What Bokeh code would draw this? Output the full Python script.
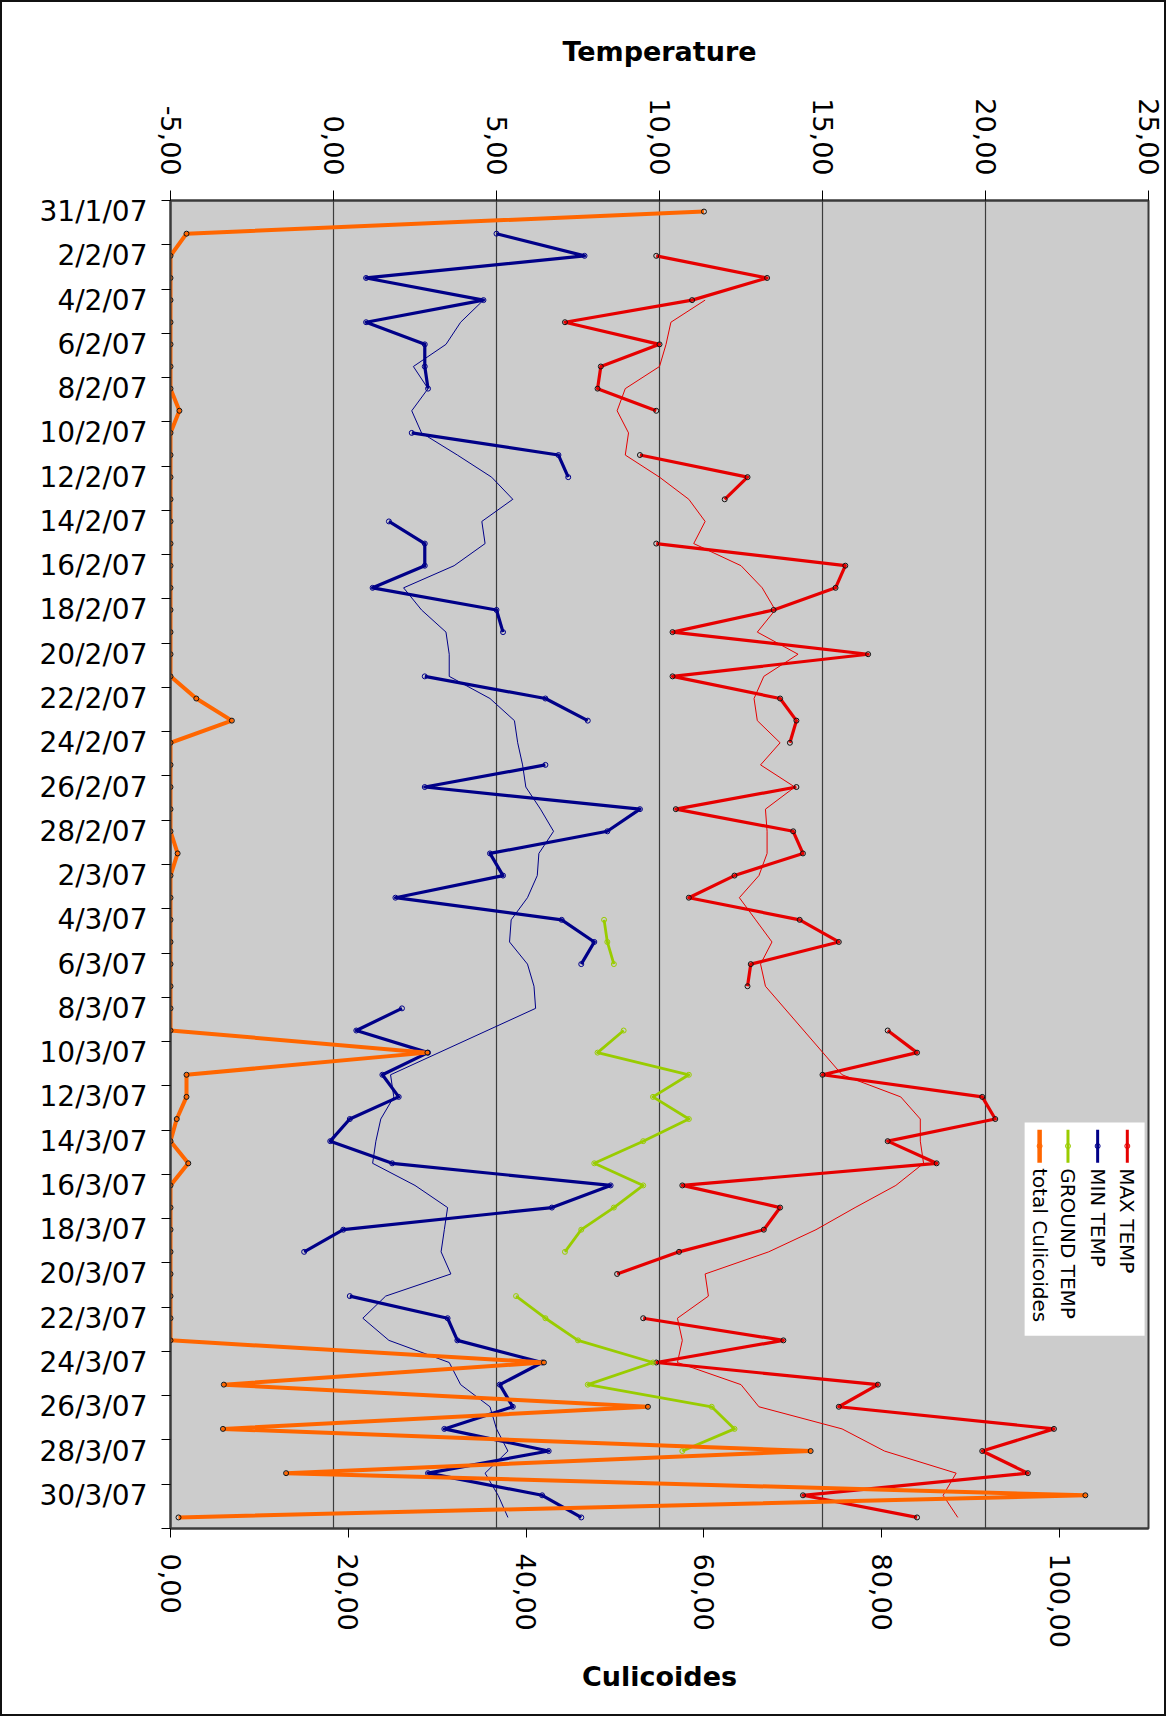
import math
from bokeh.plotting import figure
from bokeh.models import Range1d, LinearAxis, FixedTicker, BoxAnnotation, Label
from bokeh.embed import file_html
from bokeh.resources import INLINE

# ---------------- data ----------------
dates = ["31/1/07"] + [f"{d}/2/07" for d in range(1, 29)] + [f"{d}/3/07" for d in range(1, 32)]

N = float("nan")
max_temp = [N, N, 9.9, 13.3, 11.0, 7.1, 10.0, 8.2, 8.1, 9.9,
            N, 9.4, 12.7, 12.0, N, 9.9, 15.7, 15.4, 13.5, 10.4,
            16.4, 10.4, 13.7, 14.2, 14.0, N, 14.2, 10.5, 14.1, 14.4,
            12.3, 10.9, 14.3, 15.5, 12.8, 12.7, N, 17.0, 17.9, 15.0,
            19.9, 20.3, 17.0, 18.5, 10.7, 13.7, 13.2, 10.6, 8.7, N,
            9.5, 13.8, 9.9, 16.7, 15.5, 22.1, 19.9, 21.3, 14.4, 17.9]
min_temp = [N, 5.0, 7.7, 1.0, 4.6, 1.0, 2.8, 2.8, 2.9, N,
            2.4, 6.9, 7.2, N, 1.7, 2.8, 2.8, 1.2, 5.0, 5.2,
            N, 2.8, 6.5, 7.8, N, 6.5, 2.8, 9.4, 8.4, 4.8,
            5.2, 1.9, 7.0, 8.0, 7.6, N, 2.1, 0.7, 2.9, 1.5,
            2.0, 0.5, -0.1, 1.8, 8.5, 6.7, 0.3, -0.9, N, 0.5,
            3.5, 3.8, 6.4, 5.1, 5.5, 3.4, 6.6, 2.9, 6.4, 7.6]
ground_temp = [N, N, N, N, N, N, N, N, N, N,
               N, N, N, N, N, N, N, N, N, N,
               N, N, N, N, N, N, N, N, N, N,
               N, N, 8.3, 8.4, 8.6, N, N, 8.9, 8.1, 10.9,
               9.8, 10.9, 9.5, 8.0, 9.5, 8.6, 7.6, 7.1, N, 5.6,
               6.5, 7.5, 9.8, 7.8, 11.6, 12.3, 10.7, N, N, N]
culicoides = [60.0, 1.8, 0, 0, 0, 0, 0, 0, 0, 1.0,
              0, 0, 0, 0, 0, 0, 0, 0, 0, 0,
              0, 0, 2.9, 6.9, 0, 0, 0, 0, 0, 0.8,
              0, 0, 0, 0, 0, 0, 0, 0, 28.9, 1.8,
              1.8, 0.7, 0, 2.0, 0, 0, 0, 0, 0, 0,
              0, 0, 42.0, 6.0, 53.7, 5.9, 72.0, 13.0, 102.9, 0.9]

# thin trend lines (moving averages)
max_trend_dates = dates[4:36] + dates[39:60]
max_trend = [11.4, 10.35, 10.2, 10.0, 8.95, 8.7, 9.05, 8.95, 10.0, 10.9,
             11.4, 11.05, 12.5, 13.15, 13.55, 13.0, 14.25, 13.2, 12.9, 13.0,
             13.7, 13.1, 14.15, 13.25, 13.3, 13.3, 13.05, 12.45, 12.95, 13.45,
             13.1, 13.25,
             15.6, 17.4, 18.0, 18.0, 18.1, 17.25, 16.0, 14.8, 13.35, 11.4,
             11.5, 10.55, 10.7, 10.55, 12.5, 13.05, 15.6, 16.9, 19.1, 18.7,
             19.15]
min_trend_dates = dates[4:37] + dates[39:60]
min_trend = [4.6, 3.9, 3.45, 2.45, 2.9, 2.4, 2.7, 3.8, 4.85, 5.5,
             4.55, 4.65, 3.7, 2.15, 2.7, 3.45, 3.55, 3.55, 4.8, 5.55,
             5.65, 5.8, 5.9, 6.35, 6.75, 6.3, 6.25, 5.95, 5.45, 5.4,
             5.95, 6.15, 6.2,
             1.75, 1.85, 1.45, 1.3, 1.2, 2.5, 3.5, 3.4, 3.3, 3.6,
             1.6, 0.9, 1.7, 3.55, 3.9, 4.8, 5.0, 5.35, 4.65, 5.05,
             5.35]

temp_ticks = [-5, 0, 5, 10, 15, 20, 25]
temp_tick_labels = ["-5,00", "0,00", "5,00", "10,00", "15,00", "20,00", "25,00"]
cul_ticks = [0, 20, 40, 60, 80, 100]
cul_tick_labels = ["0,00", "20,00", "40,00", "60,00", "80,00", "100,00"]

series_names = ["MAX TEMP", "MIN TEMP", "GROUND TEMP", "total Culicoides"]
RED, NAVY, GREEN, ORANGE = "#e60000", "#000088", "#99cc00", "#ff6600"

# ---------------- figure ----------------
W, H = 1162, 1712
pos = {d: i + 0.5 for i, d in enumerate(dates)}
ys = [pos[d] for d in dates]

p = figure(width=W, height=H, output_backend="svg", toolbar_location=None,
           x_range=Range1d(-5, 25), y_range=Range1d(len(dates), 0),
           x_axis_location="above", y_axis_location="left",
           min_border_left=168, min_border_right=16, min_border_top=198, min_border_bottom=186)
p.extra_x_ranges = {"cul": Range1d(0, 110)}
p.background_fill_color = "#cccccc"
p.border_fill_color = "white"
p.outline_line_color = "#3a3a3a"
p.outline_line_width = 2
# thin black frame round the whole picture
p.styles = {"margin": "2px", "outline": "2px solid #111111"}

FONT = "DejaVu Sans"

top = p.above[0]
top.ticker = FixedTicker(ticks=temp_ticks)
top.major_label_overrides = {t: s for t, s in zip(temp_ticks, temp_tick_labels)}
top.major_label_orientation = -math.pi / 2
top.axis_label = "Temperature"

bottom = LinearAxis(x_range_name="cul")
bottom.ticker = FixedTicker(ticks=cul_ticks)
bottom.major_label_overrides = {t: s for t, s in zip(cul_ticks, cul_tick_labels)}
bottom.major_label_orientation = -math.pi / 2
bottom.axis_label = "Culicoides"
p.add_layout(bottom, "below")

for ax, out, st, lst in ((top, 10, 15, 28), (bottom, 9, 16, 10)):
    ax.major_tick_out = out
    ax.major_tick_in = 0
    ax.minor_tick_out = 0
    ax.minor_tick_in = 0
    ax.major_label_standoff = st
    ax.axis_label_standoff = lst
    ax.major_label_text_font = FONT
    ax.major_label_text_font_size = "27px"
    ax.major_label_text_color = "black"
    ax.axis_label_text_font = FONT
    ax.axis_label_text_font_size = "27px"
    ax.axis_label_text_font_style = "bold"
    ax.axis_label_text_color = "black"
    ax.axis_line_color = "#3a3a3a"
    ax.axis_line_width = 2
    ax.major_tick_line_color = "black"

left = p.yaxis[0]
left.ticker = FixedTicker(ticks=[pos[d] for d in dates[0::2]],
                          minor_ticks=list(range(0, len(dates) + 1, 2)))
left.major_label_overrides = {pos[d]: d for d in dates[0::2]}
left.major_tick_out = 0
left.major_tick_in = 0
left.minor_tick_out = 9
left.minor_tick_in = 0
left.minor_tick_line_color = "black"
left.major_label_standoff = 14
left.major_label_text_font = FONT
left.major_label_text_font_size = "28px"
left.major_label_text_color = "black"
left.axis_line_color = "#3a3a3a"
left.axis_line_width = 2

p.xgrid.grid_line_color = "#3c3c3c"
p.xgrid.grid_line_width = 1.2
p.ygrid.visible = False

# trend lines
p.line(max_trend, [pos[d] for d in max_trend_dates], line_color=RED, line_width=1)
p.line(min_trend, [pos[d] for d in min_trend_dates], line_color=NAVY, line_width=1)

# series
p.line(max_temp, ys, line_color=RED, line_width=3.2, line_join="round")
p.scatter(max_temp, ys, size=5, fill_color=None, line_color="#111111", line_width=1)
p.line(min_temp, ys, line_color=NAVY, line_width=3.2, line_join="round")
p.scatter(min_temp, ys, size=5, fill_color=None, line_color=NAVY, line_width=1)
p.line(ground_temp, ys, line_color=GREEN, line_width=2.8, line_join="round")
p.scatter(ground_temp, ys, size=5, fill_color=None, line_color=GREEN, line_width=1)
p.line(culicoides, ys, x_range_name="cul", line_color=ORANGE, line_width=4, line_join="round")
p.scatter(culicoides, ys, x_range_name="cul", size=5, fill_color=None, line_color="#111111", line_width=1)

# legend (rotated text, drawn by hand)
p.add_layout(BoxAnnotation(left=21.2, right=24.88, top=41.66, bottom=51.29,
                           fill_color="white", fill_alpha=1.0, line_color=None, level="underlay"))
leg_x = [24.35, 23.44, 22.53, 21.66]
leg_colors = [RED, NAVY, GREEN, ORANGE]
leg_widths = [3, 3, 3, 4.5]
for name, col, lx, lw in zip(series_names, leg_colors, leg_x, leg_widths):
    p.line([lx, lx], [41.98, 43.47], line_color=col, line_width=lw)
    p.scatter([lx], [42.72], size=5, fill_color=None, line_color=col, line_width=1)
    p.add_layout(Label(x=lx, y=43.72, text=name, angle=-math.pi / 2,
                       text_align="left", text_baseline="middle",
                       text_font=FONT, text_font_size="20px", text_color="black"))

open("out.html", "w").write(file_html(p, INLINE))
